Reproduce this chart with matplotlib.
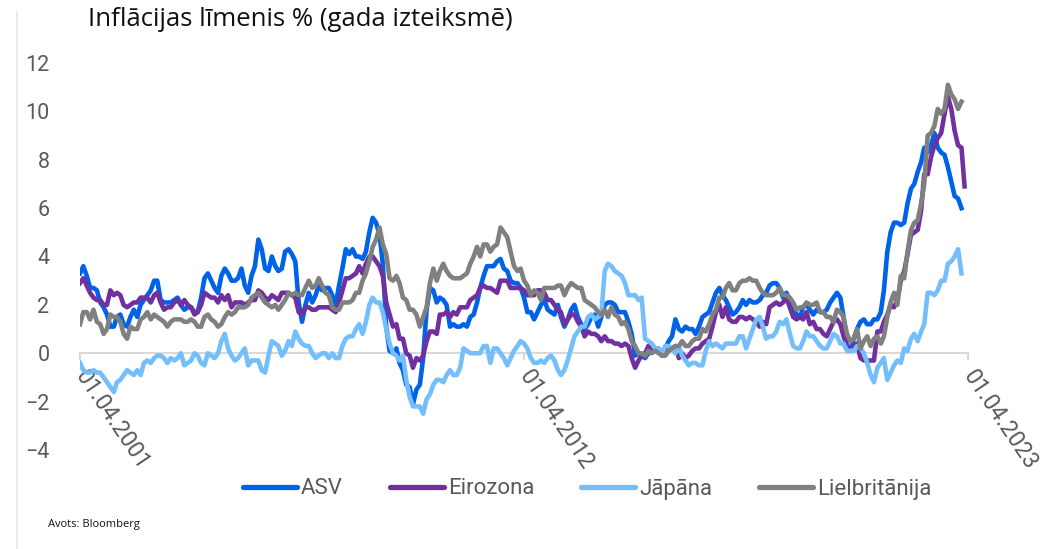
import numpy as np
import pandas as pd
import matplotlib.pyplot as plt
from matplotlib.lines import Line2D

plt.rcParams['font.family'] = ['Roboto', 'DejaVu Sans']

# monthly y/y inflation, %, starting April 2001
asv = [3.3, 3.6, 3.2, 2.7, 2.7, 2.6, 2.1, 1.9, 1.6,
       1.1, 1.1, 1.5, 1.6, 1.2, 1.1, 1.5, 1.8, 1.5, 2.0, 2.2, 2.4,
       2.6, 3.0, 3.0, 2.2, 2.1, 2.1, 2.1, 2.2, 2.3, 2.0, 1.8, 1.9,
       1.9, 1.7, 1.7, 2.3, 3.1, 3.3, 3.0, 2.7, 2.5, 3.2, 3.5, 3.3,
       3.0, 3.0, 3.1, 3.5, 2.8, 2.5, 3.2, 3.6, 4.7, 4.3, 3.5, 3.4,
       4.0, 3.6, 3.4, 3.5, 4.2, 4.3, 4.1, 3.8, 2.1, 1.3, 2.0, 2.5,
       2.1, 2.4, 2.8, 2.6, 2.7, 2.7, 2.4, 2.0, 2.8, 3.5, 4.3, 4.1,
       4.3, 4.0, 4.0, 3.9, 4.2, 5.0, 5.6, 5.4, 4.9, 3.7, 1.1, 0.1,
       0.0, 0.2, -0.4, -0.7, -1.3, -1.4, -2.1, -1.5, -1.3, -0.2, 1.8, 2.7,
       2.6, 2.1, 2.3, 2.2, 2.0, 1.1, 1.2, 1.1, 1.1, 1.2, 1.1, 1.5,
       1.6, 2.1, 2.7, 3.2, 3.6, 3.6, 3.6, 3.8, 3.9, 3.5, 3.4, 3.0,
       2.9, 2.9, 2.7, 2.3, 1.7, 1.7, 1.4, 1.7, 2.0, 2.2, 1.8, 1.7,
       1.6, 2.0, 1.5, 1.1, 1.4, 1.8, 2.0, 1.5, 1.2, 1.0, 1.2, 1.5,
       1.6, 1.1, 1.5, 2.0, 2.1, 2.1, 2.0, 1.7, 1.7, 1.7, 1.3, 0.8,
       -0.1, 0.0, -0.1, -0.2, 0.0, 0.1, 0.2, 0.2, 0.0, 0.2, 0.5, 0.7,
       1.4, 1.0, 0.9, 1.1, 1.0, 1.0, 0.8, 1.1, 1.5, 1.6, 1.7, 2.1,
       2.5, 2.7, 2.4, 2.2, 1.9, 1.6, 1.7, 1.9, 2.2, 2.0, 2.2, 2.1,
       2.1, 2.2, 2.4, 2.5, 2.8, 2.9, 2.9, 2.7, 2.3, 2.5, 2.2, 1.9,
       1.6, 1.5, 1.9, 2.0, 1.8, 1.6, 1.8, 1.7, 1.7, 1.8, 2.1, 2.3,
       2.5, 2.3, 1.5, 0.3, 0.1, 0.6, 1.0, 1.3, 1.4, 1.2, 1.2, 1.4,
       1.4, 1.7, 2.6, 4.2, 5.0, 5.4, 5.4, 5.3, 5.4, 6.2, 6.8, 7.0,
       7.5, 7.9, 8.5, 8.3, 8.6, 9.1, 8.5, 8.3, 8.2, 7.7, 7.1, 6.5,
       6.4, 6.0]

eirozona = [2.9, 3.1, 2.8, 2.5, 2.3, 2.2, 2.2, 2.0, 2.0,
            2.6, 2.4, 2.5, 2.4, 2.0, 1.9, 2.0, 2.1, 2.1, 2.3, 2.3, 2.3,
            2.1, 2.4, 2.5, 2.1, 1.8, 1.9, 1.9, 2.1, 2.2, 2.0, 2.2, 2.0,
            1.9, 1.6, 1.7, 2.0, 2.5, 2.4, 2.3, 2.3, 2.1, 2.4, 2.2, 2.4,
            1.9, 2.1, 2.1, 2.1, 2.0, 2.1, 2.2, 2.2, 2.6, 2.5, 2.3, 2.2,
            2.4, 2.3, 2.2, 2.5, 2.5, 2.5, 2.4, 2.3, 1.7, 1.6, 1.9, 1.9,
            1.8, 1.8, 1.9, 1.9, 1.9, 1.9, 1.8, 1.7, 2.1, 2.6, 3.1, 3.1,
            3.2, 3.3, 3.6, 3.3, 3.7, 4.0, 4.0, 3.8, 3.6, 3.2, 2.1, 1.6,
            1.1, 1.2, 0.6, 0.6, 0.0, -0.1, -0.6, -0.2, -0.3, -0.1, 0.5, 0.9,
            0.9, 0.8, 1.6, 1.6, 1.7, 1.5, 1.7, 1.6, 1.9, 1.9, 1.9, 2.2,
            2.3, 2.4, 2.7, 2.8, 2.7, 2.7, 2.6, 2.5, 3.0, 3.0, 3.0, 2.7,
            2.7, 2.7, 2.7, 2.6, 2.4, 2.4, 2.4, 2.6, 2.6, 2.5, 2.2, 2.2,
            2.0, 1.8, 1.7, 1.2, 1.4, 1.6, 1.6, 1.3, 1.1, 0.7, 0.9, 0.8,
            0.8, 0.7, 0.5, 0.7, 0.5, 0.5, 0.4, 0.4, 0.3, 0.4, 0.3, -0.2,
            -0.6, -0.3, -0.1, 0.0, 0.3, 0.2, 0.2, 0.1, -0.1, 0.1, 0.1, 0.2,
            0.3, -0.2, 0.0, -0.2, -0.1, 0.1, 0.2, 0.2, 0.4, 0.5, 0.6, 1.1,
            1.7, 2.0, 1.5, 1.9, 1.4, 1.3, 1.3, 1.5, 1.5, 1.4, 1.5, 1.4,
            1.3, 1.1, 1.3, 1.2, 1.9, 2.0, 2.1, 2.0, 2.1, 2.3, 1.9, 1.5,
            1.4, 1.5, 1.4, 1.7, 1.2, 1.3, 1.0, 1.0, 0.8, 0.7, 1.0, 1.3,
            1.4, 1.2, 0.7, 0.3, 0.1, 0.3, 0.4, -0.2, -0.3, -0.3, -0.3, -0.3,
            0.9, 0.9, 1.3, 1.6, 2.0, 1.9, 2.2, 3.0, 3.4, 4.1, 4.9, 5.0,
            5.1, 5.9, 7.4, 7.4, 8.1, 8.6, 8.9, 9.1, 9.9, 10.6, 10.1, 9.2,
            8.6, 8.5, 6.9]

japana = [-0.4, -0.7, -0.8, -0.8, -0.7, -0.8, -0.8, -1.0, -1.2,
          -1.4, -1.6, -1.2, -1.1, -0.9, -0.7, -0.8, -0.9, -0.7, -0.9, -0.4, -0.3,
          -0.4, -0.2, -0.1, -0.1, -0.2, -0.4, -0.2, -0.3, -0.2, 0.0, -0.5, -0.4,
          -0.3, 0.0, -0.1, -0.4, -0.5, 0.0, -0.1, -0.2, 0.0, 0.5, 0.8, 0.2,
          -0.1, -0.3, -0.2, 0.0, 0.2, -0.5, -0.3, -0.3, -0.3, -0.7, -0.8, -0.1,
          0.5, 0.4, 0.3, -0.1, 0.1, 0.5, 0.3, 0.9, 0.6, 0.4, 0.3, 0.3,
          0.0, -0.2, -0.1, 0.0, 0.0, -0.2, 0.0, -0.2, -0.2, 0.3, 0.6, 0.7,
          0.7, 1.0, 1.2, 0.8, 1.3, 2.0, 2.3, 2.1, 2.1, 1.7, 1.0, 0.4,
          0.0, -0.1, -0.3, -0.1, -1.1, -1.8, -2.2, -2.2, -2.2, -2.5, -1.9, -1.7,
          -1.3, -1.1, -1.1, -1.2, -0.9, -0.7, -0.9, -0.9, -0.6, 0.2, 0.1, 0.0,
          0.0, 0.0, 0.0, 0.3, 0.3, -0.4, 0.2, 0.2, 0.0, -0.2, -0.5, -0.2,
          0.1, 0.3, 0.5, 0.4, 0.2, -0.2, -0.4, -0.4, -0.3, -0.4, -0.2, -0.1,
          -0.3, -0.7, -0.9, -0.7, -0.3, 0.2, 0.7, 0.9, 1.1, 1.1, 1.5, 1.6,
          1.4, 1.5, 1.6, 3.4, 3.7, 3.6, 3.4, 3.3, 3.2, 2.9, 2.4, 2.4,
          2.4, 2.2, 2.3, 0.6, 0.5, 0.4, 0.2, 0.2, 0.0, 0.3, 0.3, 0.2,
          0.0, 0.3, -0.1, -0.3, -0.5, -0.4, -0.4, -0.5, -0.5, 0.1, 0.5, 0.3,
          0.4, 0.3, 0.2, 0.4, 0.4, 0.4, 0.4, 0.7, 0.7, 0.2, 0.6, 1.0,
          1.4, 1.5, 1.1, 0.6, 0.7, 0.7, 0.9, 1.3, 1.2, 1.4, 0.8, 0.3,
          0.2, 0.2, 0.5, 0.9, 0.7, 0.7, 0.5, 0.3, 0.2, 0.2, 0.5, 0.8,
          0.7, 0.4, 0.4, 0.1, 0.1, 0.1, 0.3, 0.2, 0.0, -0.4, -0.9, -1.2,
          -0.6, -0.4, -0.2, -1.1, -0.8, -0.5, -0.3, -0.4, 0.2, 0.1, 0.6, 0.8,
          0.5, 0.9, 1.2, 2.5, 2.5, 2.4, 2.6, 3.0, 3.0, 3.7, 3.8, 4.0,
          4.3, 3.3]

lielbritanija = [1.2, 1.7, 1.7, 1.4, 1.8, 1.3, 1.2, 0.8, 1.0,
                 1.6, 1.5, 1.5, 1.3, 0.8, 0.6, 1.1, 1.0, 1.0, 1.4, 1.5, 1.7,
                 1.4, 1.6, 1.5, 1.4, 1.3, 1.1, 1.3, 1.4, 1.4, 1.4, 1.3, 1.3,
                 1.4, 1.3, 1.1, 1.1, 1.5, 1.6, 1.4, 1.3, 1.1, 1.2, 1.5, 1.7,
                 1.6, 1.7, 1.9, 1.9, 1.9, 2.0, 2.3, 2.4, 2.5, 2.3, 2.1, 2.0,
                 1.9, 2.0, 1.8, 2.0, 2.2, 2.5, 2.4, 2.5, 2.4, 2.4, 2.7, 3.0,
                 2.7, 2.8, 3.1, 2.8, 2.5, 2.4, 1.9, 1.8, 1.8, 2.1, 2.1, 2.1,
                 2.2, 2.5, 2.5, 3.0, 3.3, 3.8, 4.4, 4.7, 5.2, 4.5, 4.1, 3.1,
                 3.0, 3.2, 2.9, 2.3, 2.2, 1.8, 1.8, 1.6, 1.1, 1.5, 1.9, 2.9,
                 3.5, 3.0, 3.4, 3.7, 3.4, 3.2, 3.1, 3.1, 3.1, 3.2, 3.3, 3.7,
                 4.0, 4.4, 4.0, 4.5, 4.5, 4.2, 4.4, 4.5, 5.2, 5.0, 4.8, 4.2,
                 3.6, 3.4, 3.5, 3.0, 2.8, 2.4, 2.6, 2.5, 2.2, 2.7, 2.7, 2.7,
                 2.7, 2.8, 2.8, 2.4, 2.7, 2.9, 2.8, 2.7, 2.7, 2.2, 2.1, 2.0,
                 1.9, 1.7, 1.6, 1.8, 1.5, 1.9, 1.6, 1.5, 1.2, 1.3, 1.0, 0.5,
                 0.3, 0.0, 0.0, -0.1, 0.1, 0.0, 0.1, 0.0, -0.1, -0.1, 0.1, 0.2,
                 0.3, 0.3, 0.5, 0.3, 0.3, 0.5, 0.6, 0.6, 1.0, 0.9, 1.2, 1.6,
                 1.8, 2.3, 2.3, 2.7, 2.9, 2.6, 2.6, 2.9, 3.0, 3.0, 3.1, 3.0,
                 3.0, 2.7, 2.5, 2.4, 2.4, 2.4, 2.5, 2.7, 2.4, 2.4, 2.3, 2.1,
                 1.8, 1.9, 1.9, 2.1, 2.0, 2.0, 2.1, 1.7, 1.7, 1.5, 1.5, 1.3,
                 1.8, 1.7, 1.5, 0.8, 0.5, 0.6, 1.0, 0.2, 0.5, 0.7, 0.3, 0.6,
                 0.7, 0.4, 0.7, 1.5, 2.1, 2.5, 2.0, 3.2, 3.1, 4.2, 5.1, 5.4,
                 5.5, 6.2, 7.0, 9.0, 9.1, 9.4, 10.1, 9.9, 10.1, 11.1, 10.7, 10.5,
                 10.1, 10.4]

series = [('ASV', asv, '#0062E8'),
          ('Eirozona', eirozona, '#7030A0'),
          ('Jāpāna', japana, '#74BEFC'),
          ('Lielbritānija', lielbritanija, '#808080')]

tick_dates = pd.to_datetime(['2001-04-01', '2012-04-01', '2023-04-01'])

fig = plt.figure(figsize=(10.58, 5.49), dpi=100)
ax = fig.add_axes([80 / 1058, 99 / 549, 888 / 1058, 387 / 549])

for name, vals, col in series:
    dates = pd.date_range('2001-04-01', periods=len(vals), freq='MS')
    ax.plot(dates, vals, color=col, lw=3.3, label=name, solid_joinstyle='round')

ax.set_xlim(tick_dates[0], tick_dates[-1])
ax.set_ylim(-4, 12)
ax.set_yticks(np.arange(-4, 13, 2))

for s in ['top', 'right', 'left']:
    ax.spines[s].set_visible(False)
ax.spines['bottom'].set_position(('data', 0))
ax.spines['bottom'].set_color('#d9d9d9')
ax.spines['bottom'].set_linewidth(1.5)
ax.spines['bottom'].set_zorder(0)

ax.set_xticks(tick_dates)
ax.set_xticklabels([d.strftime('%d.%m.%Y') for d in tick_dates],
                   rotation=-56, ha='left', va='center', rotation_mode='anchor')
ax.tick_params(axis='x', colors='#d9d9d9', length=5, width=1.5, pad=9,
               labelcolor='#5a5a5a', labelsize=16.5)
ax.tick_params(axis='y', length=0, pad=22, labelcolor='#5a5a5a', labelsize=15.5)

fig.text(88 / 1058, 1 - 19 / 549, 'Inflācijas līmenis % (gada izteiksmē)',
         fontsize=18.5, color='#111111', va='center', ha='left',
         family=['Open Sans', 'DejaVu Sans'])
fig.text(48 / 1058, 1 - 525 / 549, 'Avots: Bloomberg', fontsize=8,
         color='#111111', va='center', ha='left',
         family=['Open Sans', 'DejaVu Sans'])

leg = ax.legend(loc='center', bbox_to_anchor=(587 / 1058, 1 - 489 / 549),
                bbox_transform=fig.transFigure, ncol=4, frameon=False,
                handlelength=2.45, handletextpad=0.17, columnspacing=2.1,
                prop={'size': 16})
for t in leg.get_texts():
    t.set_color('#5a5a5a')
for h in leg.get_lines():
    h.set_linewidth(3.8)
    h.set_solid_capstyle('round')

fig.add_artist(Line2D([17 / 1058, 17 / 1058], [0, 1 - 12 / 549],
                      transform=fig.transFigure, color='#e6e6e6', lw=1.2))

fig.savefig('out.png', dpi=100)
